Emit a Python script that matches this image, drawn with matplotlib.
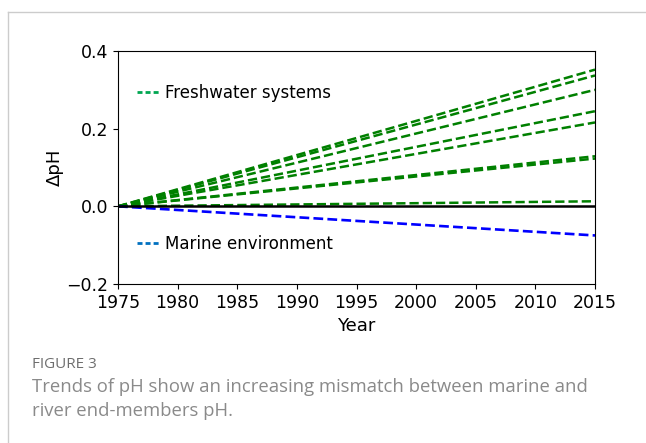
import matplotlib
matplotlib.use('Agg')
import matplotlib.pyplot as plt
from matplotlib.lines import Line2D

# data: change of pH relative to 1975
years = [1975, 2015]
fresh_2015 = [0.352, 0.337, 0.300, 0.245, 0.216, 0.129, 0.123, 0.013]
marine_2015 = -0.075

fig = plt.figure(figsize=(6.46, 4.43), dpi=100)

# card border (top and left)
fig.add_artist(Line2D([8/646, 1], [1 - 12/443, 1 - 12/443], color='#cccccc', lw=1))
fig.add_artist(Line2D([8/646, 8/646], [0, 1 - 12/443], color='#cccccc', lw=1))

ax = fig.add_axes([118/646, 1 - 284/443, 477/646, 233/443])

for v in fresh_2015:
    ax.plot(years, [0, v], color='green', linestyle='--', linewidth=1.8)
ax.plot(years, [0, marine_2015], color='blue', linestyle='--', linewidth=1.9)
ax.axhline(0, color='black', linewidth=1.8)

ax.set_xlim(1975, 2015)
ax.set_ylim(-0.2, 0.4)
ax.set_xticks(range(1975, 2016, 5))
ax.set_yticks([-0.2, 0.0, 0.2, 0.4])
ax.tick_params(labelsize=12.5)
ax.set_xlabel('Year', fontsize=13)
ax.set_ylabel('ΔpH', fontsize=13, labelpad=2)

h1 = Line2D([], [], color='#00a651', lw=2, dashes=(1.8, 1.1))
h2 = Line2D([], [], color='#0070c0', lw=2, dashes=(1.8, 1.1))
leg1 = ax.legend([h1], ['Freshwater systems'], loc='center left', bbox_to_anchor=(0.04, 0.82),
                 frameon=False, fontsize=12, handlelength=1.3, handletextpad=0.4,
                 borderpad=0, borderaxespad=0)
ax.add_artist(leg1)
ax.legend([h2], ['Marine environment'], loc='center left', bbox_to_anchor=(0.04, 0.172),
          frameon=False, fontsize=12, handlelength=1.3, handletextpad=0.4,
          borderpad=0, borderaxespad=0)

# caption
fig.text(32/646, 1 - 364/443, 'FIGURE 3', fontsize=11, color='#6e6e6e',
         family='Open Sans', va='center')
fig.text(32/646, 1 - 387/443, 'Trends of pH show an increasing mismatch between marine and',
         fontsize=13.3, color='#8a8a8a', family='Open Sans', va='center')
fig.text(32/646, 1 - 411/443, 'river end-members pH.',
         fontsize=13.3, color='#8a8a8a', family='Open Sans', va='center')

fig.savefig('out.png', dpi=100)
